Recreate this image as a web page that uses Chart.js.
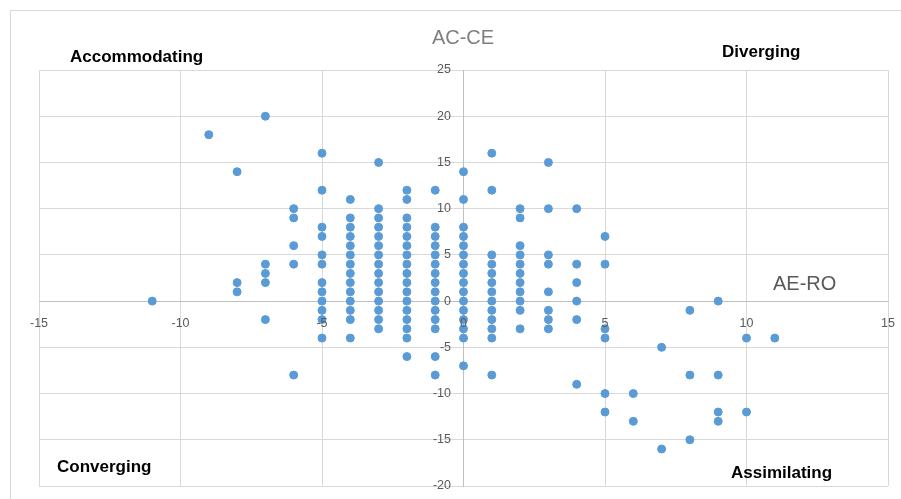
<!DOCTYPE html>
<html>
<head>
<meta charset="utf-8">
<script src="https://cdn.jsdelivr.net/npm/chart.js@4.4.0/dist/chart.umd.min.js"></script>
<style>
  body { margin: 0; background: #fff; }
  #wrap { width: 901px; height: 499px; }
</style>
</head>
<body>
<div id="wrap"><canvas id="lsiChart" width="901" height="499"></canvas></div>
<script>
// AE-RO score (x) for each column of dots
const aeroValues = [-11, -9, -8, -7, -6, -5, -4, -3, -2, -1, 0, 1, 2, 3, 4, 5, 6, 7, 8, 9, 10, 11];
// AC-CE scores (y) found in each column, same order as aeroValues
const acceColumns = [
  [0],
  [18],
  [14, 2, 1],
  [20, 4, 3, 2, -2],
  [10, 9, 6, 4, -8],
  [16, 12, 8, 7, 5, 4, 2, 1, 0, -1, -2, -4],
  [11, 9, 8, 7, 6, 5, 4, 3, 2, 1, 0, -1, -2, -4],
  [15, 10, 9, 8, 7, 6, 5, 4, 3, 2, 1, 0, -1, -2, -3],
  [12, 11, 9, 8, 7, 6, 5, 4, 3, 2, 1, 0, -1, -2, -3, -4, -6],
  [12, 8, 7, 6, 5, 4, 3, 2, 1, 0, -1, -2, -3, -6, -8],
  [14, 11, 8, 7, 6, 5, 4, 3, 2, 1, 0, -1, -2, -3, -4, -7],
  [16, 12, 5, 4, 3, 2, 1, 0, -1, -2, -3, -4, -8],
  [10, 9, 6, 5, 4, 3, 2, 1, 0, -1, -3],
  [15, 10, 5, 4, 1, -1, -2, -3],
  [10, 4, 2, 0, -2, -9],
  [7, 4, -3, -4, -10, -12],
  [-10, -13],
  [-5, -16],
  [-1, -8, -15],
  [0, -8, -12, -13],
  [-4, -12],
  [-4]
];

const xRange = [-15, 15];
const yRange = [-20, 25];
const tickStep = 5;

const xAxisTitle = 'AE-RO';
const yAxisTitle = 'AC-CE';
const quadrantNames = ['Accommodating', 'Diverging', 'Converging', 'Assimilating'];

const points = [];
aeroValues.forEach((x, i) => {
  acceColumns[i].forEach(y => points.push({ x, y }));
});

// text around the plot + the light outer frame Excel draws
const overlayText = {
  id: 'overlayText',
  beforeDraw(chart) {
    const c = chart.ctx;
    c.save();
    c.strokeStyle = '#d9d9d9';
    c.lineWidth = 1;
    c.strokeRect(10.5, 10.5, 1000, 1000);
    c.restore();
  },
  afterDraw(chart) {
    const c = chart.ctx;
    c.save();
    c.textBaseline = 'middle';

    c.font = '20px "Liberation Sans", Arial, sans-serif';
    c.fillStyle = '#7f7f7f';
    c.textAlign = 'center';
    c.fillText(yAxisTitle, 463, 38);

    c.fillStyle = '#595959';
    c.textAlign = 'left';
    c.fillText(xAxisTitle, 773, 284);

    c.font = 'bold 17px "Liberation Sans", Arial, sans-serif';
    c.fillStyle = '#000';
    c.fillText(quadrantNames[0], 70, 57);
    c.fillText(quadrantNames[1], 722, 52);
    c.fillText(quadrantNames[2], 57, 467);
    c.fillText(quadrantNames[3], 731, 473);
    c.restore();
  }
};

const tickFont = { family: '"Liberation Sans", Arial, sans-serif', size: 12.5 };

new Chart(document.getElementById('lsiChart').getContext('2d'), {
  type: 'scatter',
  data: {
    datasets: [{
      data: points,
      backgroundColor: '#5b9bd5',
      borderColor: '#5b9bd5',
      borderWidth: 1,
      pointRadius: 4,
      pointHoverRadius: 4
    }]
  },
  options: {
    responsive: false,
    animation: false,
    events: [],
    layout: { padding: { left: 39, right: 13, top: 70, bottom: 13 } },
    scales: {
      x: {
        type: 'linear',
        min: xRange[0],
        max: xRange[1],
        position: { y: 0 },
        // invisible tick marks push the labels down without padding the plot sideways
        grid: { color: '#d9d9d9', tickLength: 15, tickColor: 'rgba(0,0,0,0)' },
        border: { color: '#bfbfbf', width: 1 },
        ticks: { stepSize: tickStep, color: '#595959', font: tickFont, padding: 0, z: 1, maxRotation: 0 }
      },
      y: {
        type: 'linear',
        min: yRange[0],
        max: yRange[1],
        position: { x: 0 },
        grid: { color: '#d9d9d9', drawTicks: false },
        border: { color: '#bfbfbf', width: 1 },
        // centred axis ignores padding, so keep a gap with two en spaces
        ticks: { stepSize: tickStep, color: '#595959', font: tickFont, z: 1, callback: v => v + '\u2002\u2002' }
      }
    },
    plugins: {
      legend: { display: false },
      tooltip: { enabled: false }
    }
  },
  plugins: [overlayText]
});
</script>
</body>
</html>
